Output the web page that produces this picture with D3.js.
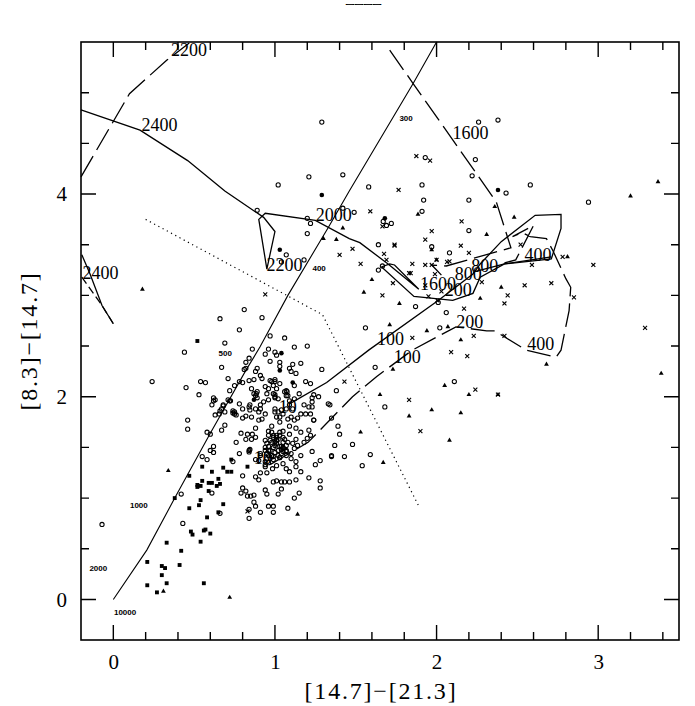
<!DOCTYPE html>
<html>
<head>
<meta charset="utf-8">
<script src="https://cdn.jsdelivr.net/npm/d3@7"></script>
<style>
  html, body { margin: 0; padding: 0; background: #fff; }
  text { font-family: "Liberation Serif", serif; fill: #000; }
  .small { font-size: 8px; font-weight: bold; font-family: "Liberation Sans", sans-serif; }
  .big { font-size: 18px; }
</style>
</head>
<body>
<svg id="chart"></svg>
<script>
// open circles, [14.7]-[21.3] vs [8.3]-[14.7]
const openCircles = [
  [.69,2.53],[.86,2.47],[.96,2.47],[1.12,2.49],[1.20,2.50],[.44,2.44],[.94,2.42],[1.00,2.44],[1.01,2.41],[.84,2.38],
  [.82,2.34],[.97,2.35],[1.03,2.34],[1.11,2.32],[1.16,2.33],[.67,2.29],[.82,2.28],[.81,2.27],[.89,2.28],[.88,2.25],
  [1.03,2.30],[1.09,2.28],[1.10,2.25],[1.13,2.23],[1.29,2.27],[.91,2.21],[.84,2.16],[.87,2.17],[.92,2.18],[.71,2.18],
  [.54,2.15],[.57,2.14],[.45,2.09],[.78,2.15],[.80,2.14],[.75,2.11],[.97,2.16],[1.00,2.15],[.99,2.11],[1.03,2.13],
  [1.19,2.15],[1.22,2.13],[.855,2.08],[.94,2.10],[.96,2.08],[1.01,2.08],[1.07,2.06],[1.12,2.11],[1.15,2.03],[.72,2.06],
  [.53,2.02],[.62,1.99],[.63,1.97],[.88,2.01],[.89,1.99],[.95,2.03],[1.00,2.00],[1.06,2.05],[1.08,2.01],[.96,1.97],
  [.72,1.96],[.68,1.92],[.61,1.92],[.67,1.88],[.66,1.86],[.69,1.85],[.63,1.82],[.655,1.83],[.75,1.85],[.78,1.93],
  [.80,1.88],[.84,1.90],[.845,1.92],[.91,1.88],[.94,1.83],[.90,1.85],[.855,1.80],[.82,1.81],[.80,1.79],[.76,1.82],
  [.90,1.77],[.92,1.78],[1.00,1.88],[1.02,1.85],[1.04,1.87],[1.07,1.88],[1.03,1.80],[1.09,1.92],[1.11,1.88],[1.23,1.99],
  [1.24,2.02],[1.27,2.00],[1.23,1.95],[1.21,1.90],[1.18,1.92],[1.33,1.93],[1.34,1.92],[1.38,2.06],[1.16,1.83],[1.19,1.83],
  [1.22,1.83],[1.24,1.77],[1.14,1.79],[1.12,1.77],[1.09,1.71],[1.03,1.75],[.46,1.77],[.46,1.68],[.58,1.65],[.60,1.63],
  [.69,1.72],[.67,1.67],[.79,1.64],[.83,1.63],[.86,1.63],[.88,1.60],[.855,1.58],[.82,1.58],[.76,1.55],[.88,1.69],
  [.98,1.71],[.96,1.66],[.99,1.60],[.96,1.62],[.94,1.57],[.98,1.55],[1.01,1.57],[1.05,1.60],[1.09,1.63],[1.13,1.69],
  [1.16,1.65],[1.21,1.67],[1.22,1.62],[1.20,1.59],[1.18,1.55],[1.13,1.58],[1.11,1.54],[1.07,1.52],[1.03,1.51],[1.00,1.52],
  [.96,1.51],[.94,1.47],[.91,1.44],[.84,1.47],[.78,1.44],[.62,1.51],[.60,1.47],[.62,1.45],[.55,1.41],[.58,1.38],
  [.74,1.36],[.88,1.38],[.90,1.37],[.91,1.42],[.96,1.42],[.97,1.39],[.94,1.36],[.94,1.31],[.99,1.41],[1.02,1.42],
  [1.05,1.46],[1.07,1.42],[1.10,1.39],[1.13,1.36],[1.16,1.42],[1.23,1.46],[1.28,1.37],[1.25,1.33],[1.35,1.42],[1.35,1.41],
  [1.43,1.41],[1.37,1.52],[1.48,1.53],[1.40,1.63],[1.39,1.71],[1.35,1.79],[.80,1.22],[.91,1.25],[.88,1.21],[.90,1.18],
  [.95,1.25],[.985,1.29],[1.01,1.32],[1.05,1.34],[1.07,1.29],[1.13,1.31],[1.09,1.26],[1.16,1.26],[1.21,1.20],[1.28,1.17],
  [1.28,1.10],[1.13,1.18],[1.09,1.16],[1.06,1.16],[1.04,1.16],[1.01,1.17],[.99,1.16],[.94,1.08],[.95,1.04],[1.02,1.04],
  [1.04,1.09],[1.15,1.05],[1.12,1.00],[.80,1.10],[.82,1.07],[.79,1.05],[.83,1.02],[.85,1.02],[.87,1.03],[.87,.96],
  [.88,.92],[.84,.89],[.91,.86],[.96,.92],[.99,.92],[1.08,.90],[.99,.86],[.42,1.04],[.84,.80],[.61,1.05],[.66,.85],
  [1.00,1.45],[1.02,1.47],[1.04,1.48],[1.05,1.50],[1.07,1.47],[1.00,1.55],[1.05,1.55],[1.02,1.58],[1.06,1.58],[1.08,1.55],
  [.97,1.47],[.95,1.44],[.98,1.42],[.99,1.38],[1.03,1.40],[1.01,1.62],[1.03,1.65],[1.05,1.66],[.87,2.03],[.89,2.05],
  [.99,2.03],[1.02,1.98],[1.10,1.44],[1.12,1.49],[1.14,1.52],
  [.74,1.86],[.74,1.84],[.75,1.83],[.68,1.91],[.62,1.96],[.725,1.96],[.71,1.97],[1.0,2.02],[1.0,1.99],[.97,1.57],
  [.95,1.54],[.94,1.50],[.96,1.47],[.99,1.50],[1.01,1.54],[1.04,1.51],[1.05,1.49],[1.07,1.46],[1.04,1.44],[1.03,1.40],
  [.98,1.42],[.95,1.39],[.96,1.35],[.94,1.33],[.99,1.62],[1.01,1.60],[.98,1.65],[1.03,1.62],[.845,1.87],[.88,1.88],
  [.91,1.92],[.93,1.95],[1.0,1.85],[1.01,1.80],[1.05,1.83],[1.08,1.78],[1.10,1.80],[1.23,1.90],[1.24,1.77],[.84,1.455],
  [.845,1.48],[1.09,1.96],[1.12,1.98],[.98,2.15],[1.0,2.17],[1.075,2.05],[1.07,2.01],[.885,2.03],
  [.66,2.77],[.81,2.86],[.92,2.78],[.78,2.66],[.97,2.60],[1.06,2.58],[.89,3.84],[1.20,3.76],[1.22,3.71],[1.20,3.61],
  [1.07,3.40],[1.18,3.35],[1.04,3.33],[1.02,4.09],[1.21,4.17],[1.29,4.71],[1.42,4.19],[1.42,3.86],[.24,2.15],[-.07,.74],
  [.43,.75],[2.26,4.71],[2.38,4.73],[2.24,4.34],[2.22,4.18],[2.58,4.09],[2.43,4.01],[2.94,3.92],[1.93,4.36],[1.91,4.09],
  [1.92,3.94],[2.20,3.94],[1.58,4.07],[1.49,3.82],[1.67,3.73],[1.69,3.69],[1.72,3.71],[1.91,3.83],[2.20,3.64],[1.64,3.50],
  [1.97,3.48],[2.08,3.42],[1.64,3.25],[1.665,3.29],[1.87,2.89],[2.01,2.93],[2.06,2.83],[1.56,2.68],[2.02,2.68],[1.62,2.29],
  [1.68,1.90],[1.59,1.43],[1.54,1.32],[2.11,2.15]
];
const filledCircles = [
  [1.04,2.43],[1.03,2.26],[1.11,2.14],[.87,1.97],[1.29,3.99],[1.03,3.45],[1.68,3.76],[2.38,4.04]
];
const squares = [
  [.55,1.31],[.73,1.38],[.68,1.30],[.83,1.31],[.61,1.26],[.705,1.26],[.73,1.26],[.47,1.22],[.55,1.17],[.65,1.19],
  [.52,1.13],[.54,1.12],[.52,1.11],[.59,1.15],[.61,1.15],[.66,1.14],[.64,1.12],[.59,1.07],[.38,1.00],[.54,.98],
  [.53,.93],[.68,.94],[.47,.90],[.65,.86],[.58,.81],[.57,.69],[.56,.68],[.48,.67],[.49,.64],[.60,.65],
  [.54,.57],[.33,.56],[.42,.48],[.21,.37],[.41,.34],[.30,.33],[.32,.31],[.30,.24],[.33,.16],[.56,.16],
  [.21,.14],[.27,.07],[.52,2.55]
];
const triangles = [
  [.34,1.27],[1.14,.84],[.31,.08],[.72,.02],[.18,3.06],[1.30,3.56],[1.38,3.55],[1.42,3.665],[1.885,3.80],[2.36,3.875],
  [2.48,3.77],[2.31,3.60],[1.60,3.155],[1.55,3.03],[1.77,2.92],[2.40,3.08],[2.27,2.97],[1.71,2.71],[1.94,2.65],[2.07,2.69],
  [2.15,2.56],[2.81,3.38],[3.20,3.98],[3.37,4.12],[2.00,3.35],[1.97,3.45],[1.73,2.27],[2.68,2.32],[3.39,2.23],[2.05,2.11],
  [1.65,2.02],[2.20,2.02],[2.38,2.02],[1.97,1.87],[1.83,1.81],[2.15,1.84],[1.53,1.65],[2.08,1.57],[1.67,1.35]
];
const crosses = [
  [.94,3.01],[1.40,3.40],[1.875,4.375],[1.96,4.33],[1.765,4.04],[1.59,3.83],[1.665,3.68],[2.155,3.73],[1.97,3.635],[1.93,3.55],
  [1.74,3.50],[1.74,3.49],[2.15,3.49],[1.48,3.46],[1.675,3.41],[1.69,3.35],[2.20,3.42],[1.53,3.31],[1.85,3.31],[1.93,3.30],
  [1.97,3.30],[2.00,3.35],[2.065,3.33],[2.08,3.335],[1.73,3.12],[1.99,3.21],[2.52,3.50],[2.78,3.38],[2.59,3.30],[2.97,3.30],
  [2.28,3.13],[2.545,3.10],[2.71,3.12],[2.44,3.00],[2.42,2.92],[2.85,2.98],[1.665,3.00],[1.95,2.99],[2.03,3.04],[2.005,2.95],
  [2.17,2.87],[1.85,2.58],[2.23,2.60],[2.42,2.60],[3.29,2.68],[1.83,3.22],[1.84,3.22],[1.93,3.10],[2.09,2.44],[2.19,2.40],
  [2.24,2.07],[2.38,2.02],[1.83,1.97],[1.90,1.66],[1.43,2.15],[.83,.87]
];

// model tracks
const diagonalLine = [[0,0],[.207,.487],[.38,1.0],[.60,1.64],[.82,2.26],[.907,2.49],[1.08,3.0],[1.33,3.67],[1.46,4.03],[1.855,5.09],[2.0,5.5]];
const dottedLine = [[.20,3.75],[1.294,2.81],[1.89,.92]];
const solidUpper = [[-.2,4.83],[.165,4.63],[.46,4.33],[.69,4.03],[.93,3.77],[1.0,3.63],[.95,3.26],[.90,3.75],[.94,3.81],[1.25,3.74],[1.46,3.56],[1.525,3.52],[1.70,3.31],[1.89,3.06],[1.74,3.30],[1.71,3.31],[1.66,3.28],[1.86,2.99],[2.10,2.95],[2.225,3.02],[2.27,3.18],[2.42,3.31],[2.71,3.38]];
const solidLower = [[1.09,1.93],[1.32,2.14],[1.58,2.46],[2.01,2.95],[2.225,3.21],[2.27,3.31],[2.40,3.53],[2.61,3.79],[2.77,3.80],[2.77,3.66],[2.71,3.36],[2.42,3.31],[2.225,3.23]];
const solidLeft = [[-.195,3.40],[-.144,3.21],[-.07,2.90],[0,2.72]];
const dashTopLeft = [[-.2,4.17],[.10,4.99],[.33,5.32],[.47,5.49]];
const dashLeft = [[-.195,3.18],[-.07,2.90],[0,2.72]];
const dashRight = [[1.71,5.42],[1.855,5.09],[2.34,3.99],[2.37,3.92],[2.46,3.47],[2.06,3.29],[1.97,3.30],[2.0,3.25],[2.03,3.20]];
const dashLower = [[.97,1.33],[1.205,1.55],[1.48,2.0],[1.63,2.20],[1.85,2.46],[2.12,2.69],[2.31,2.65],[2.36,2.65],[2.555,2.46],[2.74,2.39],[2.77,2.46],[2.82,2.85],[2.83,3.08],[2.80,3.165],[2.72,3.44],[2.68,3.56],[2.58,3.58],[2.53,3.62],[2.47,3.58],[2.60,3.69],[2.49,3.35],[2.42,3.32]];

// labels along the tracks
const bigLabels = [
  ["2200",.357,5.358],["2400",.175,4.62],["2000",1.253,3.734],["2200",.948,3.24],["2400",-.19,3.166],
  ["1600",2.098,4.546],["1600",1.897,3.057],["200",2.05,2.994],["800",2.112,3.156],["800",2.215,3.228],
  ["400",2.544,3.336],["200",2.122,2.682],["400",2.561,2.459],["100",1.632,2.508],["100",1.735,2.333],
  ["10",1.024,1.836],["10",.869,1.334]
];
const smallLabels = [
  ["300",1.77,4.72],["400",1.232,3.24],["500",.651,2.40],["1000",.103,.907],["2000",-.148,.276],["10000",.004,-.158]
];

const xMajor = [0,1,2,3];
const xMinor = [.2,.4,.6,.8,1.2,1.4,1.6,1.8,2.2,2.4,2.6,2.8,3.2,3.4];
const yMajor = [0,2,4];
const yMinor = [.5,1,1.5,2.5,3,3.5,4.5,5];

const width = 695, height = 706;
const margin = {top: 42, right: 16, bottom: 66, left: 81};

const svg = d3.select('#chart').attr('width', width).attr('height', height);

const xScale = d3.scaleLinear().domain([-.2, 3.5]).range([margin.left, width - margin.right]);
const yScale = d3.scaleLinear().domain([-.4, 5.5]).range([height - margin.bottom, margin.top]);

const [x0, x1] = xScale.range(), [y0, y1] = yScale.range();

// axis labels from d3 axes, no tick lines or domain from them
svg.append('g').attr('transform', `translate(0,${y0})`)
    .call(d3.axisBottom(xScale).tickValues(xMajor).tickSize(0).tickPadding(14).tickFormat(d3.format('d')))
    .call(g => g.select('.domain').remove())
    .call(g => g.selectAll('.tick text').style('font-size', '21px').style('font-family', '"Liberation Serif", serif'));
svg.append('g').attr('transform', `translate(${x0},0)`)
    .call(d3.axisLeft(yScale).tickValues(yMajor).tickSize(0).tickPadding(14).tickFormat(d3.format('d')))
    .call(g => g.select('.domain').remove())
    .call(g => g.selectAll('.tick text').style('font-size', '21px').style('font-family', '"Liberation Serif", serif'));

// all tick marks in one path, on the four sides, pointing inwards
const tickPath = d3.path();
function addTicks(xValues, yValues, size) {
  xValues.forEach(d => {
    tickPath.moveTo(xScale(d), y0); tickPath.lineTo(xScale(d), y0 - size);
    tickPath.moveTo(xScale(d), y1); tickPath.lineTo(xScale(d), y1 + size);
  });
  yValues.forEach(d => {
    tickPath.moveTo(x0, yScale(d)); tickPath.lineTo(x0 + size, yScale(d));
    tickPath.moveTo(x1, yScale(d)); tickPath.lineTo(x1 - size, yScale(d));
  });
}
addTicks(xMajor, yMajor, 15);
addTicks(xMinor, yMinor, 8);
svg.append('path').attr('d', tickPath.toString())
    .attr('fill', 'none').attr('stroke', '#000').attr('stroke-width', 1.4);

svg.append('rect')
    .attr('x', x0).attr('y', y1)
    .attr('width', x1 - x0).attr('height', y0 - y1)
    .attr('fill', 'none').attr('stroke', '#000').attr('stroke-width', 1.6);

// tracks
const trackLine = d3.line().x(d => xScale(d[0])).y(d => yScale(d[1]));
function addTrack(points, dash, w) {
  svg.append('path').attr('d', trackLine(points))
    .attr('fill', 'none').attr('stroke', '#000')
    .attr('stroke-width', w).attr('stroke-dasharray', dash);
}
addTrack(diagonalLine, null, 1.1);
addTrack(dottedLine, '1.2 3.6', 1.2);
addTrack(solidUpper, null, 1.3);
addTrack(solidLower, null, 1.3);
addTrack(solidLeft, null, 1.3);
addTrack(dashTopLeft, '24 7', 1.3);
addTrack(dashLeft, '8 4', 1.3);
addTrack(dashRight, '24 7', 1.3);
addTrack(dashLower, '24 7', 1.3);

// labels
svg.append('g').selectAll('text').data(bigLabels).join('text')
    .attr('class', 'big').attr('x', d => xScale(d[1])).attr('y', d => yScale(d[2])).text(d => d[0]);
svg.append('g').selectAll('text').data(smallLabels).join('text')
    .attr('class', 'small').attr('x', d => xScale(d[1])).attr('y', d => yScale(d[2])).text(d => d[0]);

// point markers
svg.append('g').selectAll('circle').data(openCircles).join('circle')
    .attr('cx', d => xScale(d[0])).attr('cy', d => yScale(d[1])).attr('r', 2.1)
    .attr('fill', 'none').attr('stroke', '#000').attr('stroke-width', 1.05);
svg.append('g').selectAll('circle').data(filledCircles).join('circle')
    .attr('cx', d => xScale(d[0])).attr('cy', d => yScale(d[1])).attr('r', 2.3)
    .attr('fill', '#000');
svg.append('g').selectAll('path').data(squares).join('path')
    .attr('d', d3.symbol(d3.symbolSquare, 15))
    .attr('transform', d => `translate(${xScale(d[0])},${yScale(d[1])})`);
svg.append('g').selectAll('path').data(triangles).join('path')
    .attr('d', d3.symbol(d3.symbolTriangle, 10))
    .attr('transform', d => `translate(${xScale(d[0])},${yScale(d[1])})`);
svg.append('g').selectAll('path').data(crosses).join('path')
    .attr('d', d3.symbol(d3.symbolTimes, 12))
    .attr('transform', d => `translate(${xScale(d[0])},${yScale(d[1])})`)
    .attr('fill', 'none').attr('stroke', '#000').attr('stroke-width', 1.1);

// title and axis titles
svg.append('text').attr('transform', 'translate(363.5,6.5) scale(3.2,1)').attr('text-anchor', 'middle')
    .style('font-size', '8.5px').style('font-weight', 'bold')
    .style('stroke', '#000').style('stroke-width', .45).text('----');
svg.append('text').attr('x', 381).attr('y', 699).attr('text-anchor', 'middle')
    .style('font-size', '24px').style('letter-spacing', '1.8px').text('[14.7]\u2212[21.3]');
svg.append('text').attr('transform', 'translate(37,341) rotate(-90)').attr('text-anchor', 'middle')
    .style('font-size', '24px').style('letter-spacing', '1.8px').text('[8.3]\u2212[14.7]');
</script>
</body>
</html>
